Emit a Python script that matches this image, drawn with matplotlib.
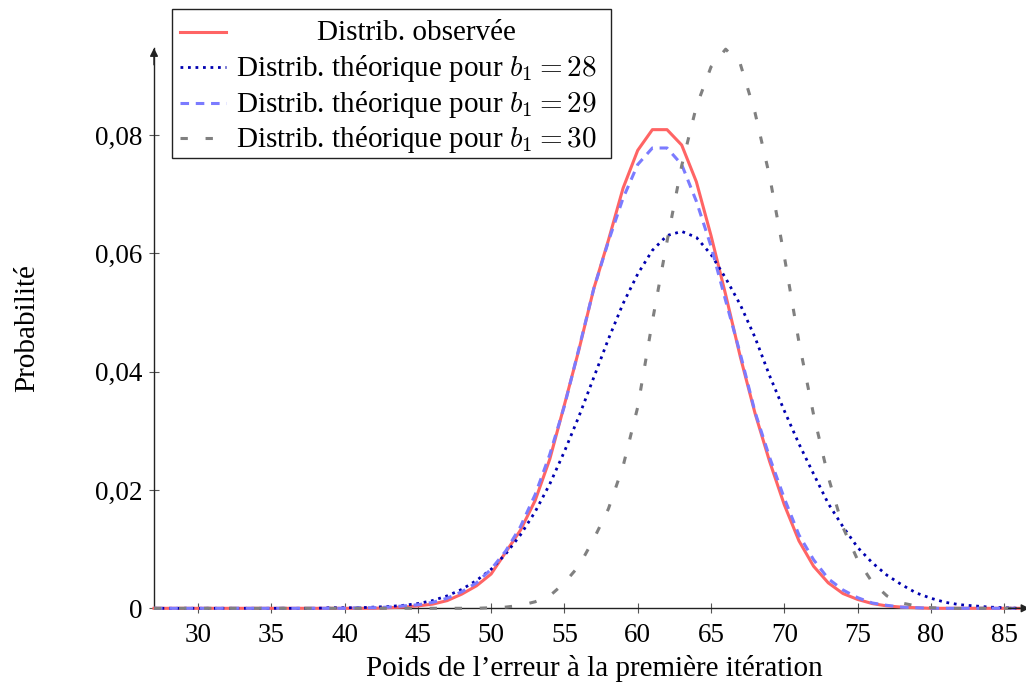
import matplotlib
matplotlib.use("Agg")
import matplotlib.pyplot as plt
from matplotlib.transforms import Affine2D
from matplotlib.lines import Line2D
from matplotlib.patches import Rectangle

plt.rcParams['font.family'] = ['Liberation Serif', 'DejaVu Serif']
plt.rcParams['mathtext.fontset'] = 'cm'

# ---- data -------------------------------------------------------------
weights = list(range(27, 87))

observed = [
    0, 0, 0, 0, 0, 0, 0, 0, 0, 0,
    0, 0, 0, 0, 0, 0, 0.0001, 0.0002, 0.0004, 0.0007,
    0.0013, 0.0024, 0.0038, 0.0058, 0.0095, 0.0132, 0.0182, 0.0252, 0.0344, 0.0438,
    0.0540, 0.0622, 0.0710, 0.0774, 0.0809, 0.0809, 0.0783, 0.0721, 0.0630, 0.0530,
    0.0425, 0.0330, 0.0248, 0.0175, 0.0114, 0.0071, 0.0043, 0.0025, 0.0015, 0.0008,
    0.0004, 0.0002, 0.0001, 0, 0, 0, 0, 0, 0, 0,
]

theo_b28 = [
    0, 0, 0, 0, 0, 0, 0, 0, 0, 0,
    0, 0, 0.0001, 0.0001, 0.0001, 0.0002, 0.0003, 0.0005, 0.0008, 0.0013,
    0.0021, 0.0032, 0.0047, 0.0066, 0.0092, 0.0124, 0.0163, 0.0210, 0.0265, 0.0325,
    0.0390, 0.0455, 0.0515, 0.0565, 0.0605, 0.0630, 0.0637, 0.0627, 0.0598, 0.0558,
    0.0513, 0.0458, 0.0393, 0.0334, 0.0278, 0.0227, 0.0177, 0.0138, 0.0103, 0.0077,
    0.0056, 0.0040, 0.0026, 0.0017, 0.0010, 0.0006, 0.0004, 0.0002, 0.0001, 0,
]

theo_b29 = [
    0, 0, 0, 0, 0, 0, 0, 0, 0, 0,
    0, 0, 0, 0, 0.0001, 0.0001, 0.0002, 0.0004, 0.0006, 0.0010,
    0.0017, 0.0028, 0.0043, 0.0066, 0.0097, 0.0138, 0.0192, 0.0260, 0.0342, 0.0440,
    0.0540, 0.0620, 0.0693, 0.0750, 0.0778, 0.0778, 0.0750, 0.0688, 0.0612, 0.0520,
    0.0430, 0.0332, 0.0255, 0.0186, 0.0124, 0.0082, 0.0050, 0.0031, 0.0018, 0.0009,
    0.0005, 0.0002, 0.0001, 0, 0, 0, 0, 0, 0, 0,
]

theo_b30 = [
    0, 0, 0, 0, 0, 0, 0, 0, 0, 0,
    0, 0, 0, 0, 0, 0, 0, 0, 0, 0,
    0, 0, 0, 0.0001, 0.0002, 0.0005, 0.0011, 0.0021, 0.0043, 0.0072,
    0.0117, 0.0168, 0.0240, 0.0340, 0.0485, 0.0620, 0.0748, 0.0848, 0.0915, 0.0945,
    0.0920, 0.0838, 0.0730, 0.0595, 0.0450, 0.0327, 0.0222, 0.0137, 0.0082, 0.0044,
    0.0021, 0.0009, 0.0004, 0.0001, 0, 0, 0, 0, 0, 0,
]

x_ticks = [30, 35, 40, 45, 50, 55, 60, 65, 70, 75, 80, 85]
y_ticks = [0, 0.02, 0.04, 0.06, 0.08]
y_tick_labels = ["0", "0,02", "0,04", "0,06", "0,08"]

legend_labels = [
    "Distrib. observée",
    r"Distrib. théorique pour $b_1 = 28$",
    r"Distrib. théorique pour $b_1 = 29$",
    r"Distrib. théorique pour $b_1 = 30$",
]
x_label = "Poids de l\u2019erreur à la première itération"
y_label = "Probabilité"

# ---- figure -----------------------------------------------------------
W, H = 1026, 685
fig = plt.figure(figsize=(W / 100, H / 100), dpi=100)
ax = fig.add_axes([154 / W, 1 - 608.3 / H, 1 - 154 / W, (608.3 - 48) / H])

FS = 21
LFS = 21
TFS = 19.5
axis_col = '#222222'

styles = [
    dict(color='#FF6464', lw=2.2, ls='-'),
    dict(color='#0000B0', lw=2.0, ls=(0, (1.0, 1.7))),
    dict(color='#7B7BFF', lw=2.2, ls=(0, (2.8, 2.2))),
    dict(color='#808080', lw=2.2, ls=(0, (2.4, 5.8))),
]
series = [observed, theo_b28, theo_b29, theo_b30]
for s, st in zip(series, styles):
    ax.plot(weights, s, clip_on=False, zorder=3, **st)

ax.set_xlim(27, 86.49)
ax.set_ylim(0, 0.0947)

for side in ('top', 'right'):
    ax.spines[side].set_visible(False)
for side in ('left', 'bottom'):
    ax.spines[side].set_color(axis_col)
    ax.spines[side].set_linewidth(1.0)

ax.set_xticks(x_ticks)
ax.set_xticklabels([str(v) for v in x_ticks])
ax.set_yticks(y_ticks)
ax.set_yticklabels(y_tick_labels)
ax.tick_params(axis='both', direction='inout', length=7, width=0.8,
               color='#555555', labelsize=TFS, labelcolor='black')
ax.tick_params(axis='x', pad=7)
ax.tick_params(axis='y', pad=5)

# arrow heads on the axes
ax.annotate('', xy=(0, 1.0), xycoords='axes fraction',
            xytext=(0, 0.97), textcoords='axes fraction',
            arrowprops=dict(arrowstyle='-|>', color=axis_col, lw=1.0,
                            mutation_scale=12, shrinkA=0, shrinkB=0))
ax.annotate('', xy=(1.004, 0), xycoords='axes fraction',
            xytext=(0.98, 0), textcoords='axes fraction',
            arrowprops=dict(arrowstyle='-|>', color=axis_col, lw=1.0,
                            mutation_scale=12, shrinkA=0, shrinkB=0),
            annotation_clip=False)

fig.text(594 / W, 1 - 668 / H, x_label, ha='center', va='center', fontsize=FS)
fig.text(27 / W, 1 - 328 / H, y_label, ha='center', va='center',
         rotation=90, fontsize=FS)

# ---- legend (pixel layout) --------------------------------------------
px = Affine2D().scale(1 / W, -1 / H).translate(0, 1) + fig.transFigure
fig.patches.append(Rectangle((171.5, 8.5), 611 - 171.5, 158 - 8.5,
                             transform=px, facecolor='white',
                             edgecolor='#222222', lw=1.0, zorder=5))
row_y = [32, 67.5, 103, 138.5]
for lab, st, y in zip(legend_labels, styles, row_y):
    fig.lines.append(Line2D([180, 226], [y, y], transform=px, zorder=6, **st))
    fig.text(416, y + 1, lab, transform=px, ha='center', va='center',
             fontsize=LFS, zorder=6)

fig.savefig('out.png', dpi=100)
